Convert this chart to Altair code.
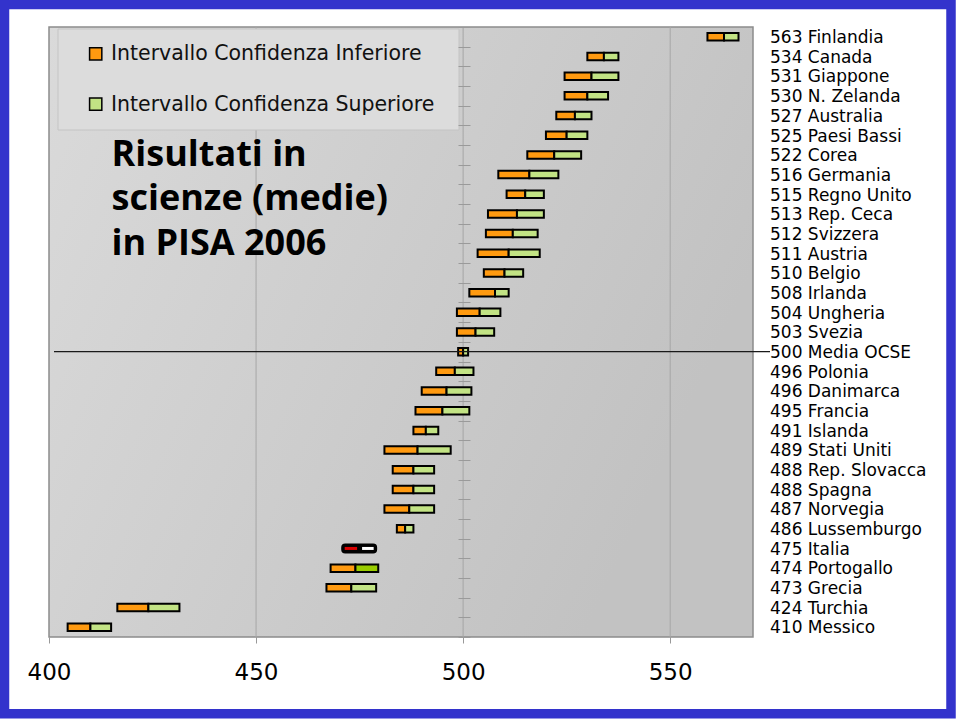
import altair as alt
import pandas as pd

# ---- data ----
paesi = ["Finlandia", "Canada", "Giappone", "N. Zelanda", "Australia", "Paesi Bassi",
         "Corea", "Germania", "Regno Unito", "Rep. Ceca", "Svizzera", "Austria",
         "Belgio", "Irlanda", "Ungheria", "Svezia", "Media OCSE", "Polonia",
         "Danimarca", "Francia", "Islanda", "Stati Uniti", "Rep. Slovacca", "Spagna",
         "Norvegia", "Lussemburgo", "Italia", "Portogallo", "Grecia", "Turchia", "Messico"]
punteggi_etichetta = [563, 534, 531, 530, 527, 525, 522, 516, 515, 513, 512, 511, 510, 508,
                      504, 503, 500, 496, 496, 495, 491, 489, 488, 488, 487, 486, 475, 474,
                      473, 424, 410]
inferiore = [559, 530, 524.5, 524.5, 522.5, 520, 515.5, 508.5, 510.5, 506, 505.5, 503.5,
             505, 501.5, 498.5, 498.5, 498.8, 493.5, 490, 488.5, 488, 481, 483, 483, 481,
             484, 470.8, 468, 467, 416.5, 404.5]
media = [563, 534, 531, 530, 527, 525, 522, 516, 515, 513, 512, 511, 510, 507.7, 504, 503,
         500, 498, 496, 495, 491, 489, 488, 488, 487, 486, 475, 474, 473, 424, 410]
superiore = [566.5, 537.5, 537.5, 535, 531, 530, 528.5, 523, 519.5, 519.5, 518, 518.5,
             514.5, 511, 509, 507.5, 501.2, 502.5, 502, 501.5, 494, 497, 493, 493, 493,
             488, 479, 479.5, 479, 431.5, 415]
serie = ["Intervallo Confidenza Inferiore", "Intervallo Confidenza Superiore"]
colori_serie = ["#ff9a10", "#c2e384"]
valori_asse = [400, 450, 500, 550]
valori_griglia = [450, 500, 550]
titolo = ["Risultati in", "scienze (medie)", "in PISA 2006"]

# ---- tables ----
rows = []
for p, lo, m, hi in zip(paesi, inferiore, media, superiore):
    rows.append({"paese": p, "inizio": lo, "fine": m, "parte": serie[0]})
    rows.append({"paese": p, "inizio": m, "fine": hi, "parte": serie[1]})
seg = pd.DataFrame(rows)
lab = pd.DataFrame({"paese": paesi,
                    "etichetta": [f"{s} {p}" for s, p in zip(punteggi_etichetta, paesi)]})
one = pd.DataFrame({"a": [0]})
grid_df = pd.DataFrame({"inizio": valori_griglia})
leg_df = pd.DataFrame({"parte": serie})

W, H = 704, 610
FONT = "DejaVu Sans"

xscale = alt.Scale(domain=[400, 570], nice=False, zero=False)
yscale = alt.Scale(domain=paesi, paddingInner=0, paddingOuter=0)
cscale = alt.Scale(domain=serie, range=colori_serie)

X_AXIS = alt.Axis(values=valori_asse, format="d", tickSize=6, tickColor="#999999",
                  labelFontSize=23, labelFont=FONT, labelColor="black", labelFlush=False,
                  labelPadding=18, domain=False, grid=False, title=None)
Y_AXIS = alt.Axis(orient="left", offset=-421, domain=False, labels=False, tickSize=12,
                  tickColor="#9a9a9a", tickWidth=1, tickBand="extent", grid=False,
                  title=None, zindex=1)

def X(field="inizio:Q"):
    return alt.X(field, scale=xscale, axis=X_AXIS)

def Y():
    return alt.Y("paese:N", scale=yscale, sort=None, axis=Y_AXIS)

# blue frame
frame = alt.Chart(one).mark_rect(fillOpacity=0, stroke="#3333cc", strokeWidth=9.5).encode(
    x=alt.value(-44.5), x2=alt.value(902), y=alt.value(-22.4), y2=alt.value(686.8))

# plot background
bg = alt.Chart(one).mark_rect(
    fill=alt.Gradient(gradient="linear",
                      stops=[alt.GradientStop(color="#dadada", offset=0),
                             alt.GradientStop(color="#c2c2c2", offset=1)],
                      x1=0, y1=0, x2=1, y2=0.4),
    stroke="#8c8c8c", strokeWidth=1.5).encode(
    x=alt.value(0), x2=alt.value(W), y=alt.value(0), y2=alt.value(H))

grid = alt.Chart(grid_df).mark_rule(color="#a6a6a6", strokeWidth=1).encode(
    x=X(), y=alt.value(0), y2=alt.value(H))

# legend
leg_box = alt.Chart(one).mark_rect(fill="#dcdcdc", stroke="#c4c4c4", strokeWidth=1).encode(
    x=alt.value(9), x2=alt.value(410), y=alt.value(2), y2=alt.value(103))
leg_layers = []
for i, name in enumerate(serie):
    d = leg_df[leg_df["parte"] == name]
    leg_layers.append(alt.Chart(d).mark_square(size=150, stroke="black", strokeWidth=1.5, opacity=1).encode(
        x=alt.value(46.7), y=alt.value(26.8 + 50.4 * i),
        color=alt.Color("parte:N", scale=cscale, legend=None)))
    leg_layers.append(alt.Chart(d).mark_text(align="left", baseline="alphabetic", font=FONT,
                                             fontSize=20.5, color="#111").encode(
        x=alt.value(62), y=alt.value(33.3 + 50.4 * i), text="parte:N"))

title = alt.Chart(one).mark_text(text=titolo, align="left", baseline="alphabetic", font="Open Sans",
                                 fontWeight="bold", fontSize=36, lineHeight=44.6,
                                 color="black").encode(x=alt.value(62.5), y=alt.value(138.7))

# bars
bars = alt.Chart(seg).transform_filter("datum.paese != 'Italia'").mark_bar(
    size=7.5, stroke="black", strokeWidth=2).encode(
    x=X(), x2="fine:Q", y=Y(),
    color=alt.condition("datum.paese == 'Portogallo' && datum.parte == '" + serie[1] + "'",
                        alt.value("#99cc00"),
                        alt.Color("parte:N", scale=cscale, legend=None)))

ita = seg[seg["paese"] == "Italia"]
ita_bg = alt.Chart(pd.DataFrame({"paese": ["Italia"], "inizio": [min(ita["inizio"])],
                                 "fine": [max(ita["fine"])]})).mark_bar(
    size=8, color="black", stroke="black", strokeWidth=2, cornerRadius=3).encode(
    x=X(), x2="fine:Q", y=Y())
ita_in = alt.Chart(ita).mark_bar(size=3, xOffset=2.5, x2Offset=-2.5).encode(
    x=X(), x2="fine:Q", y=Y(),
    color=alt.condition("datum.parte == '" + serie[0] + "'", alt.value("#d80000"),
                        alt.value("white")))

media_line = alt.Chart(lab[lab["paese"] == "Media OCSE"]).mark_rule(
    color="#1a1a1a", strokeWidth=1.3).encode(
    y=Y(), x=alt.value(5), x2=alt.value(721))

labels = alt.Chart(lab).mark_text(align="left", baseline="alphabetic", dy=6.3, font=FONT,
                                  fontSize=17, color="black").encode(
    y=Y(), x=alt.value(721), text="etichetta:N")

chart = alt.layer(frame, bg, grid, leg_box, *leg_layers, title, bars, ita_bg, ita_in,
                  media_line, labels).properties(
    width=W, height=H,
    autosize=alt.AutoSizeParams(type="none"),
    padding={"left": 49, "top": 27, "right": 207, "bottom": 83},
    background="white"
).configure_view(strokeWidth=0)

chart.save("out.html", embed_options={"renderer": "svg", "actions": False})
